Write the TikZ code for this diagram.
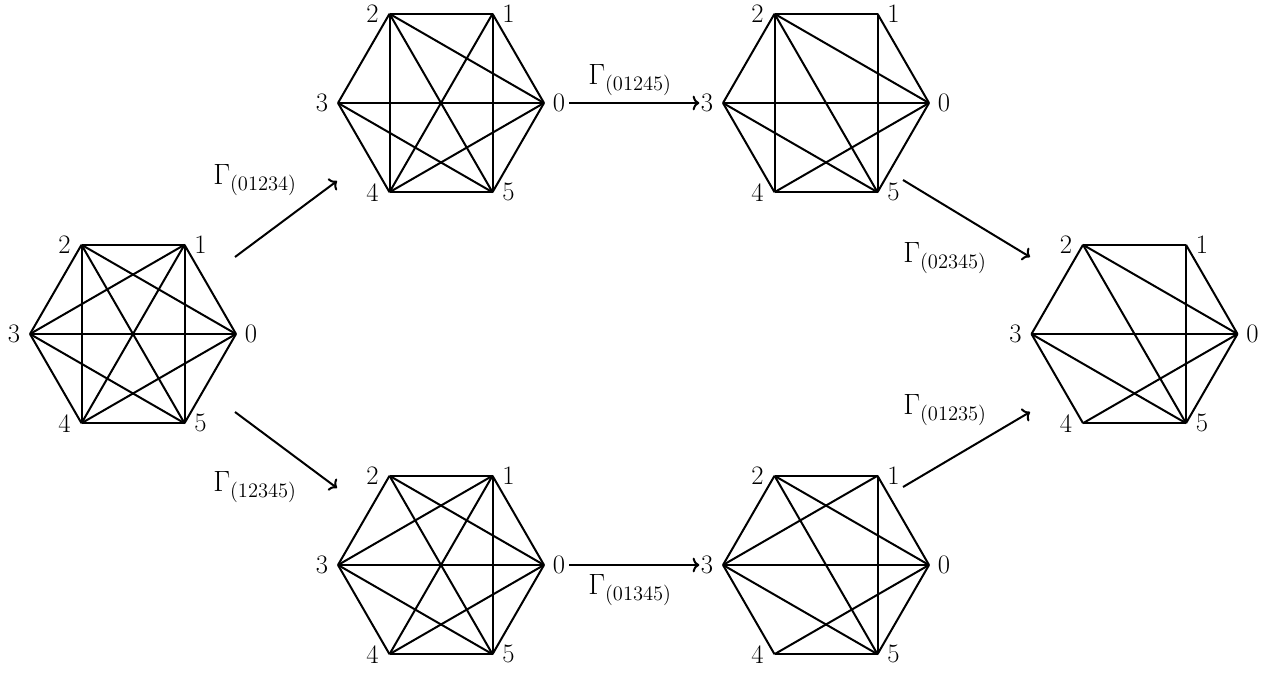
\RequirePackage{fix-cm}
\documentclass[tikz,border=0pt]{standalone}
\usepackage{fontspec}
\usetikzlibrary{arrows.meta}
\tikzset{
  every node/.style={font=\fontsize{20}{24}\selectfont},
  edge/.style={line width=1.5pt, line join=round},
  conn/.style={line width=1.5pt, -{To[length=5pt,width=11pt]}},
  vlbl/.style={inner sep=1pt},
  glbl/.style={inner sep=0pt, font=\fontsize{22}{26}\selectfont}
}
\newcommand{\hexg}[4]{%
  \foreach \k in {0,...,5} {
    \coordinate (#1\k) at ({#2+103*cos(60*\k)},{#3-103*sin(60*\k)});
  }
  \foreach \a/\b in {#4} {\draw[edge] (#1\a) -- (#1\b);}
  \node[vlbl] (#1l0) at ({#2+103+15},{#3}) {0};
  \node[vlbl] (#1l1) at ({#2+51.5+16},{#3-89.2}) {1};
  \node[vlbl] (#1l2) at ({#2-51.5-17},{#3-89.2}) {2};
  \node[vlbl] (#1l3) at ({#2-103-16},{#3}) {3};
  \node[vlbl] (#1l4) at ({#2-51.5-17},{#3+89.2}) {4};
  \node[vlbl] (#1l5) at ({#2+51.5+16},{#3+89.2}) {5};
}
\begin{document}
\begin{tikzpicture}[x=0.75pt,y=-0.75pt]
\useasboundingbox (0,0) rectangle (1284,673);
% A: K6
\hexg{A}{133}{334}{0/1,0/2,0/3,0/4,0/5,1/2,1/3,1/4,1/5,2/3,2/4,2/5,3/4,3/5,4/5}
% B: K6 minus 13
\hexg{B}{441}{103}{0/1,0/2,0/3,0/4,0/5,1/2,1/4,1/5,2/3,2/4,2/5,3/4,3/5,4/5}
% C: minus 13, 14
\hexg{C}{826}{103}{0/1,0/2,0/3,0/4,0/5,1/2,1/5,2/3,2/4,2/5,3/4,3/5,4/5}
% D: minus 13, 14, 24
\hexg{D}{1134.5}{334}{0/1,0/2,0/3,0/4,0/5,1/2,1/5,2/3,2/5,3/4,3/5,4/5}
% E: minus 24
\hexg{E}{441}{565}{0/1,0/2,0/3,0/4,0/5,1/2,1/3,1/4,1/5,2/3,2/5,3/4,3/5,4/5}
% F: minus 24, 14
\hexg{F}{826}{565}{0/1,0/2,0/3,0/4,0/5,1/2,1/3,1/5,2/3,2/5,3/4,3/5,4/5}

% arrow ends
\coordinate (pAB1) at (235,257); \coordinate (pAB2) at (337,181);
\coordinate (pAE1) at (235,412); \coordinate (pAE2) at (337,488);
\coordinate (pCD1) at (903,180); \coordinate (pCD2) at (1030,257);
\coordinate (pFD1) at (903,487); \coordinate (pFD2) at (1030,412);

\draw[conn] (pAB1) -- (pAB2);
\draw[conn] (pAE1) -- (pAE2);
\draw[conn] (pCD1) -- (pCD2);
\draw[conn] (pFD1) -- (pFD2);
\draw[conn, shorten <=2pt] (Bl0.east) -- (Cl3.west);
\draw[conn, shorten <=2pt] (El0.east) -- (Fl3.west);

\node[glbl] (gAB) at (255,180) {$\Gamma_{(01234)}$};
\node[glbl] (gAE) at (255,487) {$\Gamma_{(12345)}$};
\node[glbl] (gBC) at (630,80) {$\Gamma_{(01245)}$};
\node[glbl] (gEF) at (630,590) {$\Gamma_{(01345)}$};
\node[glbl] (gCD) at (945,258) {$\Gamma_{(02345)}$};
\node[glbl] (gFD) at (945,410) {$\Gamma_{(01235)}$};
\end{tikzpicture}
\end{document}
